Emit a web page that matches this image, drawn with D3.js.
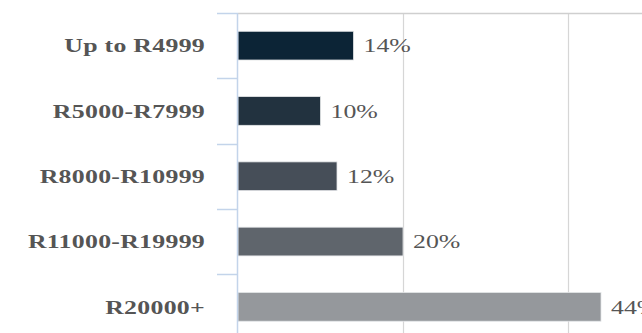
<!DOCTYPE html>
<html>
<head>
<meta charset="utf-8">
<script src="https://cdn.jsdelivr.net/npm/d3@7"></script>
<style>
  html, body { margin: 0; padding: 0; background: #fff; overflow: hidden; }
  svg { display: block; }
</style>
</head>
<body>
<div id="chart"></div>
<script>
const categories = ["Up to R4999", "R5000-R7999", "R8000-R10999", "R11000-R19999", "R20000+"];
const shares = [14, 10, 12, 20, 44];
const gridTicks = [20, 40, 60];
const barColors = ["#0c2436", "#22323f", "#464e58", "#5f656c", "#95989c"];

const width = 642;
const height = 333;
const stretch = 1.36; // text in the picture is widened

const svg = d3
  .select("#chart")
  .append("svg")
  .attr("width", width)
  .attr("height", height);

const x = d3.scaleLinear().domain([0, 60]).range([238, 733]);
const y = d3.scaleBand().domain(categories).range([13, 339.5]).paddingInner(0.56).paddingOuter(0.28);

// gridlines
svg
  .selectAll(".grid")
  .data(gridTicks)
  .enter()
  .append("line")
  .attr("x1", (d) => x(d) + 0.5)
  .attr("x2", (d) => x(d) + 0.5)
  .attr("y1", 13)
  .attr("y2", height)
  .attr("stroke", "#d6d6d6")
  .attr("stroke-width", 1.2);

// top border
svg
  .append("line")
  .attr("x1", x(0))
  .attr("x2", width)
  .attr("y1", 13.5)
  .attr("y2", 13.5)
  .attr("stroke", "#cfcfcf")
  .attr("stroke-width", 1.5);

// category ticks (band edges)
const edges = categories.map((c) => y(c) - (y.step() - y.bandwidth()) / 2).concat([339.5]);
svg
  .selectAll(".tick")
  .data(edges)
  .enter()
  .append("line")
  .attr("x1", 217)
  .attr("x2", x(0))
  .attr("y1", (d) => Math.round(d) + 0.5)
  .attr("y2", (d) => Math.round(d) + 0.5)
  .attr("stroke", "#c3d4ea")
  .attr("stroke-width", 1.5);

// bars
svg
  .selectAll(".bar")
  .data(shares)
  .enter()
  .append("rect")
  .attr("x", x(0))
  .attr("y", (d, i) => y(categories[i]))
  .attr("width", (d) => x(d) - x(0))
  .attr("height", y.bandwidth())
  .attr("fill", (d, i) => barColors[i])
  .attr("stroke", "#e4e6e8")
  .attr("stroke-width", 0.8);

// value axis line
svg
  .append("line")
  .attr("x1", x(0) - 0.5)
  .attr("x2", x(0) - 0.5)
  .attr("y1", 13)
  .attr("y2", height)
  .attr("stroke", "#c3d4ea")
  .attr("stroke-width", 1.5);

// category labels
svg
  .selectAll(".cat-label")
  .data(categories)
  .enter()
  .append("text")
  .attr("class", "cat-label")
  .attr("transform", (d) => `translate(205,${y(d) + y.bandwidth() / 2}) scale(${stretch},1)`)
  .attr("text-anchor", "end")
  .attr("dy", "0.36em")
  .attr("fill", "#555")
  .style("font-family", "'Liberation Serif', 'Times New Roman', serif")
  .style("font-weight", "bold")
  .style("font-size", "19px")
  .style("letter-spacing", "0.2px")
  .text((d) => d);

// value labels
svg
  .selectAll(".value-label")
  .data(shares)
  .enter()
  .append("text")
  .attr("class", "value-label")
  .attr("transform", (d, i) => `translate(${x(d) + 10},${y(categories[i]) + y.bandwidth() / 2}) scale(${stretch},1)`)
  .attr("dy", "0.36em")
  .attr("fill", "#555")
  .style("font-family", "'Liberation Serif', 'Times New Roman', serif")
  .style("font-size", "19px")
  .text((d) => d + "%");
</script>
</body>
</html>
